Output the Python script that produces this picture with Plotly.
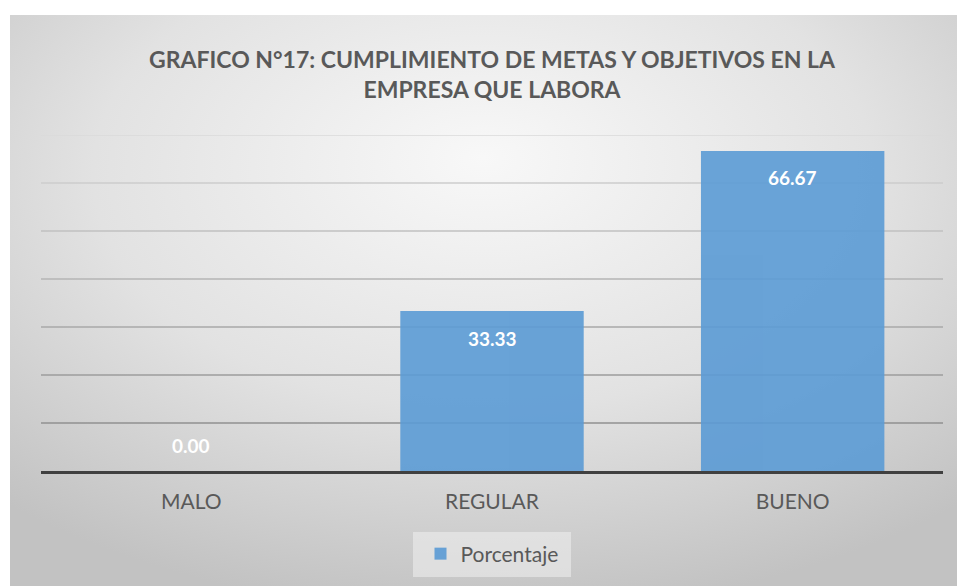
import base64
import plotly.graph_objects as go

categories = ["MALO", "REGULAR", "BUENO"]
values = [0.00, 33.33, 66.67]
series_name = "Porcentaje"
title_text = "GRAFICO N°17: CUMPLIMIENTO DE METAS Y OBJETIVOS EN LA<br>EMPRESA QUE LABORA"
grid_levels = [10, 20, 30, 40, 50, 60, 70]

W, H = 957, 586
ML, MR, MT, MB = 41, 14, 135, 115
PW = W - ML - MR
PH = H - MT - MB

FONT = "Lato, Carlito, 'Open Sans', sans-serif"

# radial gradient background (as SVG image)
svg = (
    '<svg xmlns="http://www.w3.org/2000/svg" width="947" height="571" viewBox="0 0 947 571" preserveAspectRatio="none">'
    '<defs><radialGradient id="g" cx="50%" cy="30%" r="75%" fx="50%" fy="25%">'
    '<stop offset="0%" stop-color="#f8f8f8"/>'
    '<stop offset="55%" stop-color="#e2e2e2"/>'
    '<stop offset="100%" stop-color="#c2c2c2"/>'
    '</radialGradient></defs>'
    '<rect x="0" y="0" width="947" height="571" fill="url(#g)"/>'
    '</svg>'
)
src = "data:image/svg+xml;base64," + base64.b64encode(svg.encode()).decode()

def px_to_paper_x(px):
    return (px - ML) / PW

def px_to_paper_y(py):
    return (H - MB - py) / PH

fig = go.Figure()
fig.add_trace(go.Bar(
    x=categories, y=values, name=series_name,
    marker=dict(color="#5b9bd5", line=dict(width=0)),
    opacity=0.9,
    width=0.61,
    hoverinfo="skip",
))

# gridlines with gradient darkness (lighter at top)
shapes = []
for i, lv in enumerate(grid_levels):
    t = i / (len(grid_levels) - 1)
    c = int(145 + (218 - 145) * t)
    shapes.append(dict(type="line", xref="paper", yref="y", x0=0, x1=1, y0=lv, y1=lv,
                       line=dict(color=f"rgb({c},{c},{c})", width=1.5), layer="below"))
# legend background box
shapes.append(dict(type="rect", xref="paper", yref="paper",
                   x0=px_to_paper_x(413), x1=px_to_paper_x(571),
                   y0=px_to_paper_y(577), y1=px_to_paper_y(532),
                   fillcolor="rgba(240,240,240,0.55)", line=dict(width=0), layer="below"))

annotations = []
for c, v in zip(categories, values):
    annotations.append(dict(x=c, y=v, xref="x", yref="y", text=f"<b>{v:.2f}</b>",
                            showarrow=False, yshift=(-27 if v > 0 else 26),
                            font=dict(family=FONT, size=19, color="white")))
annotations.append(dict(x=px_to_paper_x(492), y=px_to_paper_y(74), xref="paper", yref="paper",
                        text=f"<b>{title_text}</b>", showarrow=False, align="center",
                        font=dict(family=FONT, size=23, color="#595959"),
                        yanchor="middle", xanchor="center"))

fig.update_layout(
    width=W, height=H,
    margin=dict(l=ML, r=MR, t=MT, b=MB, pad=0),
    paper_bgcolor="white",
    plot_bgcolor="rgba(0,0,0,0)",
    bargap=0.39,
    showlegend=True,
    legend=dict(orientation="h", x=0.5, xanchor="center", y=px_to_paper_y(554), yanchor="middle",
                font=dict(family=FONT, size=21, color="#595959"), bgcolor="rgba(0,0,0,0)",
                itemwidth=30),
    images=[dict(source=src, xref="paper", yref="paper",
                 x=px_to_paper_x(10), y=px_to_paper_y(15),
                 sizex=(W - 10) / PW, sizey=(H - 15) / PH,
                 xanchor="left", yanchor="top", sizing="stretch", layer="below")],
    shapes=shapes,
    annotations=annotations,
    xaxis=dict(showgrid=False, showline=True, linecolor="#404040", linewidth=3,
               ticks="", tickfont=dict(family=FONT, size=21, color="#595959"),
               ticklabelstandoff=10),
    yaxis=dict(range=[0, 70], showgrid=False, zeroline=False, showticklabels=False, showline=False),
)

fig.write_html("out.html", config={"displayModeBar": False},
               post_script="document.body.style.margin='0';document.body.style.overflow='hidden';")
